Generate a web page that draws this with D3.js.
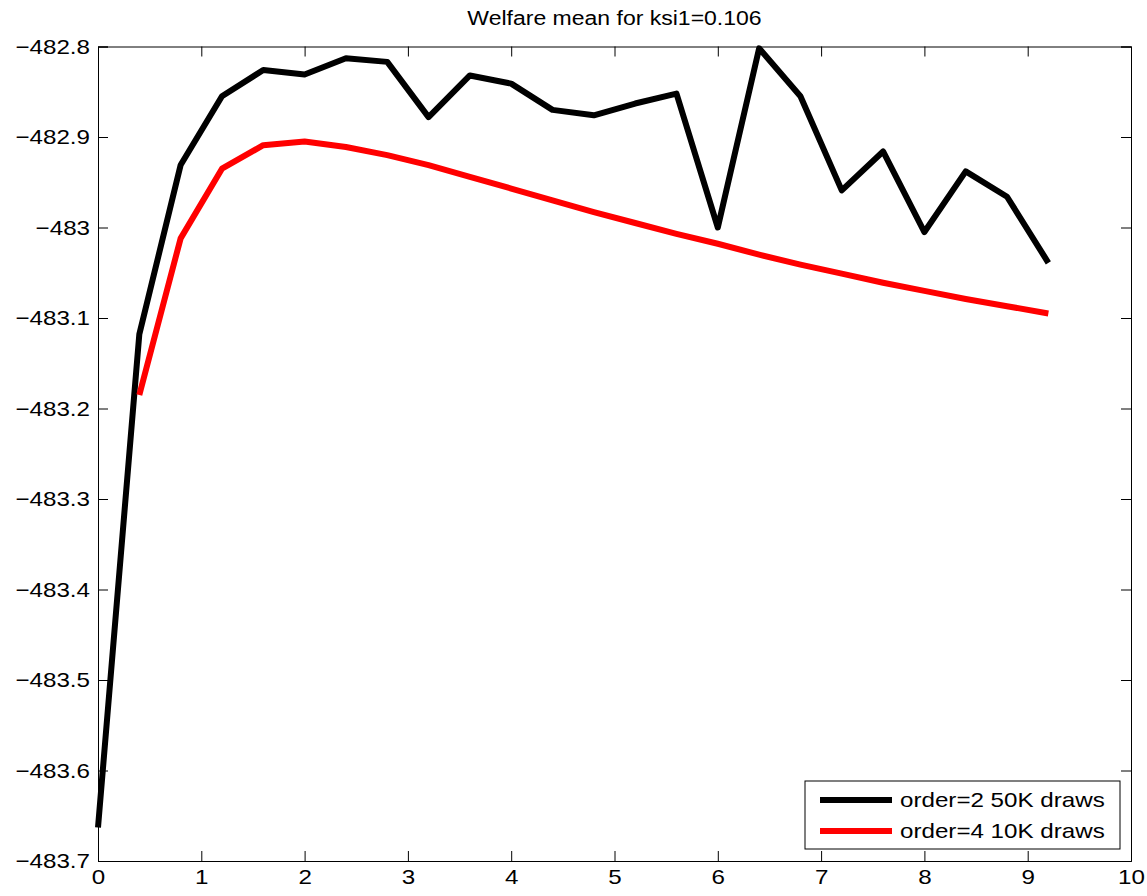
<!DOCTYPE html>
<html><head><meta charset="utf-8">
<script src="https://cdn.jsdelivr.net/npm/d3@7"></script>
<style>
html,body{margin:0;padding:0;background:#fff;}
text{font-family:"Liberation Sans",Arial,Helvetica,sans-serif;fill:#000;}
</style></head>
<body>
<svg id="chart" width="1147" height="896"></svg>
<script>
const title = "Welfare mean for ksi1=0.106";
const xTicks = [0,1,2,3,4,5,6,7,8,9,10];
const yTicks = [-482.8,-482.9,-483,-483.1,-483.2,-483.3,-483.4,-483.5,-483.6,-483.7];
const xBlack = [0,0.4,0.8,1.2,1.6,2.0,2.4,2.8,3.2,3.6,4.0,4.4,4.8,5.2,5.6,6.0,6.4,6.8,7.2,7.6,8.0,8.4,8.8,9.2];
const yBlack = [-483.663,-483.118,-482.931,-482.855,-482.826,-482.831,-482.813,-482.817,-482.878,-482.832,-482.841,-482.870,-482.876,-482.863,-482.852,-483.000,-482.802,-482.855,-482.959,-482.916,-483.005,-482.938,-482.966,-483.039];
const xRed = [0.4,0.8,1.2,1.6,2.0,2.4,2.8,3.2,3.6,4.0,4.4,4.8,5.2,5.6,6.0,6.4,6.8,7.2,7.6,8.0,8.4,8.8,9.2];
const yRed = [-483.185,-483.012,-482.935,-482.909,-482.905,-482.911,-482.920,-482.931,-482.944,-482.957,-482.970,-482.983,-482.995,-483.007,-483.018,-483.030,-483.041,-483.051,-483.061,-483.070,-483.079,-483.087,-483.095];
const seriesNames = ["order=2 50K draws","order=4 10K draws"];
const seriesColors = ["#000000","#ff0000"];

const svg = d3.select("#chart");
const L=98, R=1131, T=46.5, B=861;
const x = d3.scaleLinear().domain([0,10]).range([L,R]);
const y = d3.scaleLinear().domain([-483.7,-482.8]).range([B,T]);
const STRETCH = 1.15;
function stretch(sel){
  sel.each(function(){
    const w=this.getComputedTextLength();
    d3.select(this).attr("textLength", w*STRETCH).attr("lengthAdjust","spacingAndGlyphs");
  });
}
const fmt = v => d3.format("")(v).replace("-","\u2212");

// axes
const gx = svg.append("g").attr("transform",`translate(0,${B})`)
  .call(d3.axisBottom(x).tickValues(xTicks).tickSize(-10).tickPadding(8).tickFormat(d3.format("d")));
const gxt = svg.append("g").attr("transform",`translate(0,${T})`)
  .call(d3.axisTop(x).tickValues(xTicks).tickSize(-10).tickFormat(""));
const gy = svg.append("g").attr("transform",`translate(${L},0)`)
  .call(d3.axisLeft(y).tickValues(yTicks).tickSize(-10).tickPadding(8).tickFormat(fmt));
const gyr = svg.append("g").attr("transform",`translate(${R},0)`)
  .call(d3.axisRight(y).tickValues(yTicks).tickSize(-10).tickFormat(""));
[gx,gxt,gy,gyr].forEach(g=>{
  g.select(".domain").attr("stroke","#000").attr("stroke-width",1);
  g.selectAll(".tick line").attr("stroke","#000").attr("stroke-width",1);
  g.selectAll("text").attr("font-size",21).attr("font-family","Liberation Sans, Arial, sans-serif").attr("fill","#000");
});
gx.selectAll(".tick text").attr("dy","0.71em").call(stretch);
gy.selectAll(".tick text").call(stretch);

// lines
const line = d3.line().x(d=>x(d[0])).y(d=>y(d[1]));
const dataB = xBlack.map((v,i)=>[v,yBlack[i]]);
const dataR = xRed.map((v,i)=>[v,yRed[i]]);
svg.append("path").datum(dataB).attr("d",line).attr("fill","none")
  .attr("stroke",seriesColors[0]).attr("stroke-width",6).attr("stroke-linejoin","round");
svg.append("path").datum(dataR).attr("d",line).attr("fill","none")
  .attr("stroke",seriesColors[1]).attr("stroke-width",6).attr("stroke-linejoin","round");

// title
svg.append("text").attr("x",(L+R)/2).attr("y",25).attr("text-anchor","middle")
  .attr("font-size",20).text(title).call(stretch);

// legend
const lg = svg.append("g");
lg.append("rect").attr("x",805).attr("y",781).attr("width",315).attr("height",68)
  .attr("fill","#fff").attr("stroke","#000").attr("stroke-width",1);
seriesNames.forEach((n,i)=>{
  const yy = 800 + i*31;
  lg.append("line").attr("x1",820).attr("x2",892).attr("y1",yy).attr("y2",yy)
    .attr("stroke",seriesColors[i]).attr("stroke-width",6);
  lg.append("text").attr("x",900).attr("y",yy).attr("dy","0.35em").attr("font-size",21).text(n).call(stretch);
});
</script>
</body></html>
